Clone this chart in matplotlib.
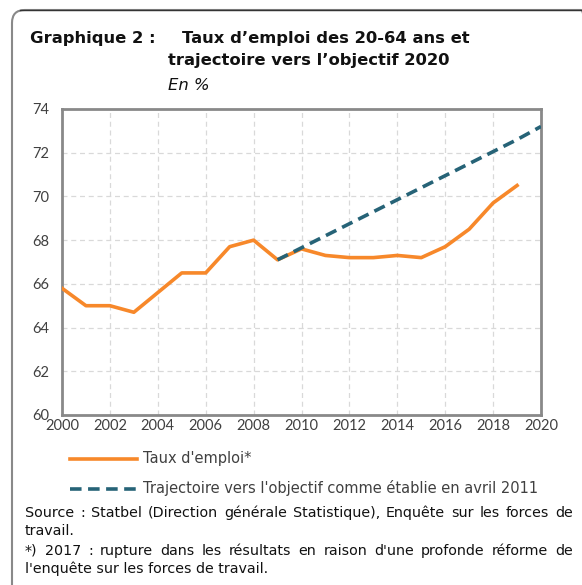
import matplotlib.pyplot as plt
from matplotlib.patches import FancyBboxPatch

annees = list(range(2000, 2020))
taux = [65.8, 65.0, 65.0, 64.7, 65.6, 66.5, 66.5, 67.7, 68.0, 67.1,
        67.6, 67.3, 67.2, 67.2, 67.3, 67.2, 67.7, 68.5, 69.7, 70.5]
annees_traj = list(range(2009, 2021))
traj = [67.1, 67.65, 68.2, 68.75, 69.3, 69.85, 70.4, 70.95, 71.5, 72.05, 72.6, 73.2]

orange = '#F7882A'
teal = '#266377'
gris = '#898989'
texte = '#404040'

fig = plt.figure(figsize=(5.82, 5.85), dpi=100)
W, H = 582, 585

# cadre arrondi
box = FancyBboxPatch((12 / W, -0.05), 1.0, 1.0 - 10 / H + 0.05,
                     boxstyle="round,pad=0,rounding_size=0.022",
                     transform=fig.transFigure, fill=False,
                     edgecolor=gris, lw=1.5, clip_on=False)
fig.patches.append(box)
fig.add_artist(plt.Line2D([20 / W, 1], [1 - 10 / H, 1 - 10 / H],
                          transform=fig.transFigure, color='#333333', lw=1))

ax = fig.add_axes([62 / W, 1 - 415 / H, (541 - 62) / W, (415 - 109) / H])
ax.plot(annees, taux, color=orange, lw=2.6, solid_joinstyle='round', zorder=3)
ax.plot(annees_traj, traj, color=teal, lw=2.6, ls=(0, (3.2, 1.8)), zorder=4)

ax.set_xlim(2000, 2020)
ax.set_ylim(60, 74)
ax.set_xticks(range(2000, 2021, 2))
ax.set_yticks(range(60, 75, 2))
ax.grid(True, color='#d9d9d9', ls=(0, (4, 3)), lw=0.9)
ax.set_axisbelow(True)
for s in ax.spines.values():
    s.set_color(gris)
    s.set_linewidth(2)
ax.tick_params(length=0, labelsize=10.5, colors=texte, pad=3)
for lab in ax.get_xticklabels() + ax.get_yticklabels():
    lab.set_family('Lato')
ax.tick_params(axis='y', pad=9)

tkw = dict(fontsize=11.8, fontweight='bold', color='#111111', va='center',
           family='DejaVu Sans')
fig.text(30 / W, 1 - 38 / H, "Graphique 2 :", **tkw)
fig.text(182 / W, 1 - 38 / H, "Taux d\u2019emploi des 20-64 ans et", **tkw)
fig.text(168 / W, 1 - 60 / H, "trajectoire vers l\u2019objectif 2020", **tkw)
fig.text(168 / W, 1 - 86 / H, "En %", fontsize=11.8, style='italic',
         color='#111111', va='center', family='DejaVu Sans')

# legende
fig.add_artist(plt.Line2D([70 / W, 137 / W], [1 - 459 / H] * 2, transform=fig.transFigure,
                          color=orange, lw=2.6))
fig.add_artist(plt.Line2D([70 / W, 137 / W], [1 - 489 / H] * 2, transform=fig.transFigure,
                          color=teal, lw=2.6, ls=(0, (3.2, 1.8))))
fig.text(143 / W, 1 - 458 / H, "Taux d'emploi*", fontsize=10.5, color=texte,
         va='center', family='DejaVu Sans')
fig.text(143 / W, 1 - 488 / H, "Trajectoire vers l'objectif comme établie en avril 2011",
         fontsize=10.5, color=texte, va='center', family='DejaVu Sans')

notes = ["Source : Statbel (Direction générale Statistique), Enquête sur les forces de",
         "travail.",
         "*) 2017 : rupture dans les résultats en raison d'une profonde réforme de",
         "l'enquête sur les forces de travail."]
justifie = [True, False, True, False]
ys = [513, 531, 551, 569]
x0, x1 = 25, 573
nkw = dict(fontsize=10.3, color='#111111', va='center', family='DejaVu Sans')
renderer = fig.canvas.get_renderer()
for t, y, j in zip(notes, ys, justifie):
    if not j:
        fig.text(x0 / W, 1 - y / H, t, **nkw)
        continue
    mots = t.split(' ')
    objs = [fig.text(0, 1 - y / H, m, **nkw) for m in mots]
    largeurs = [o.get_window_extent(renderer).width for o in objs]
    esp = (x1 - x0 - sum(largeurs)) / (len(mots) - 1)
    x = x0
    for o, w in zip(objs, largeurs):
        o.set_x(x / W)
        x += w + esp

fig.savefig('out.png', dpi=100)
